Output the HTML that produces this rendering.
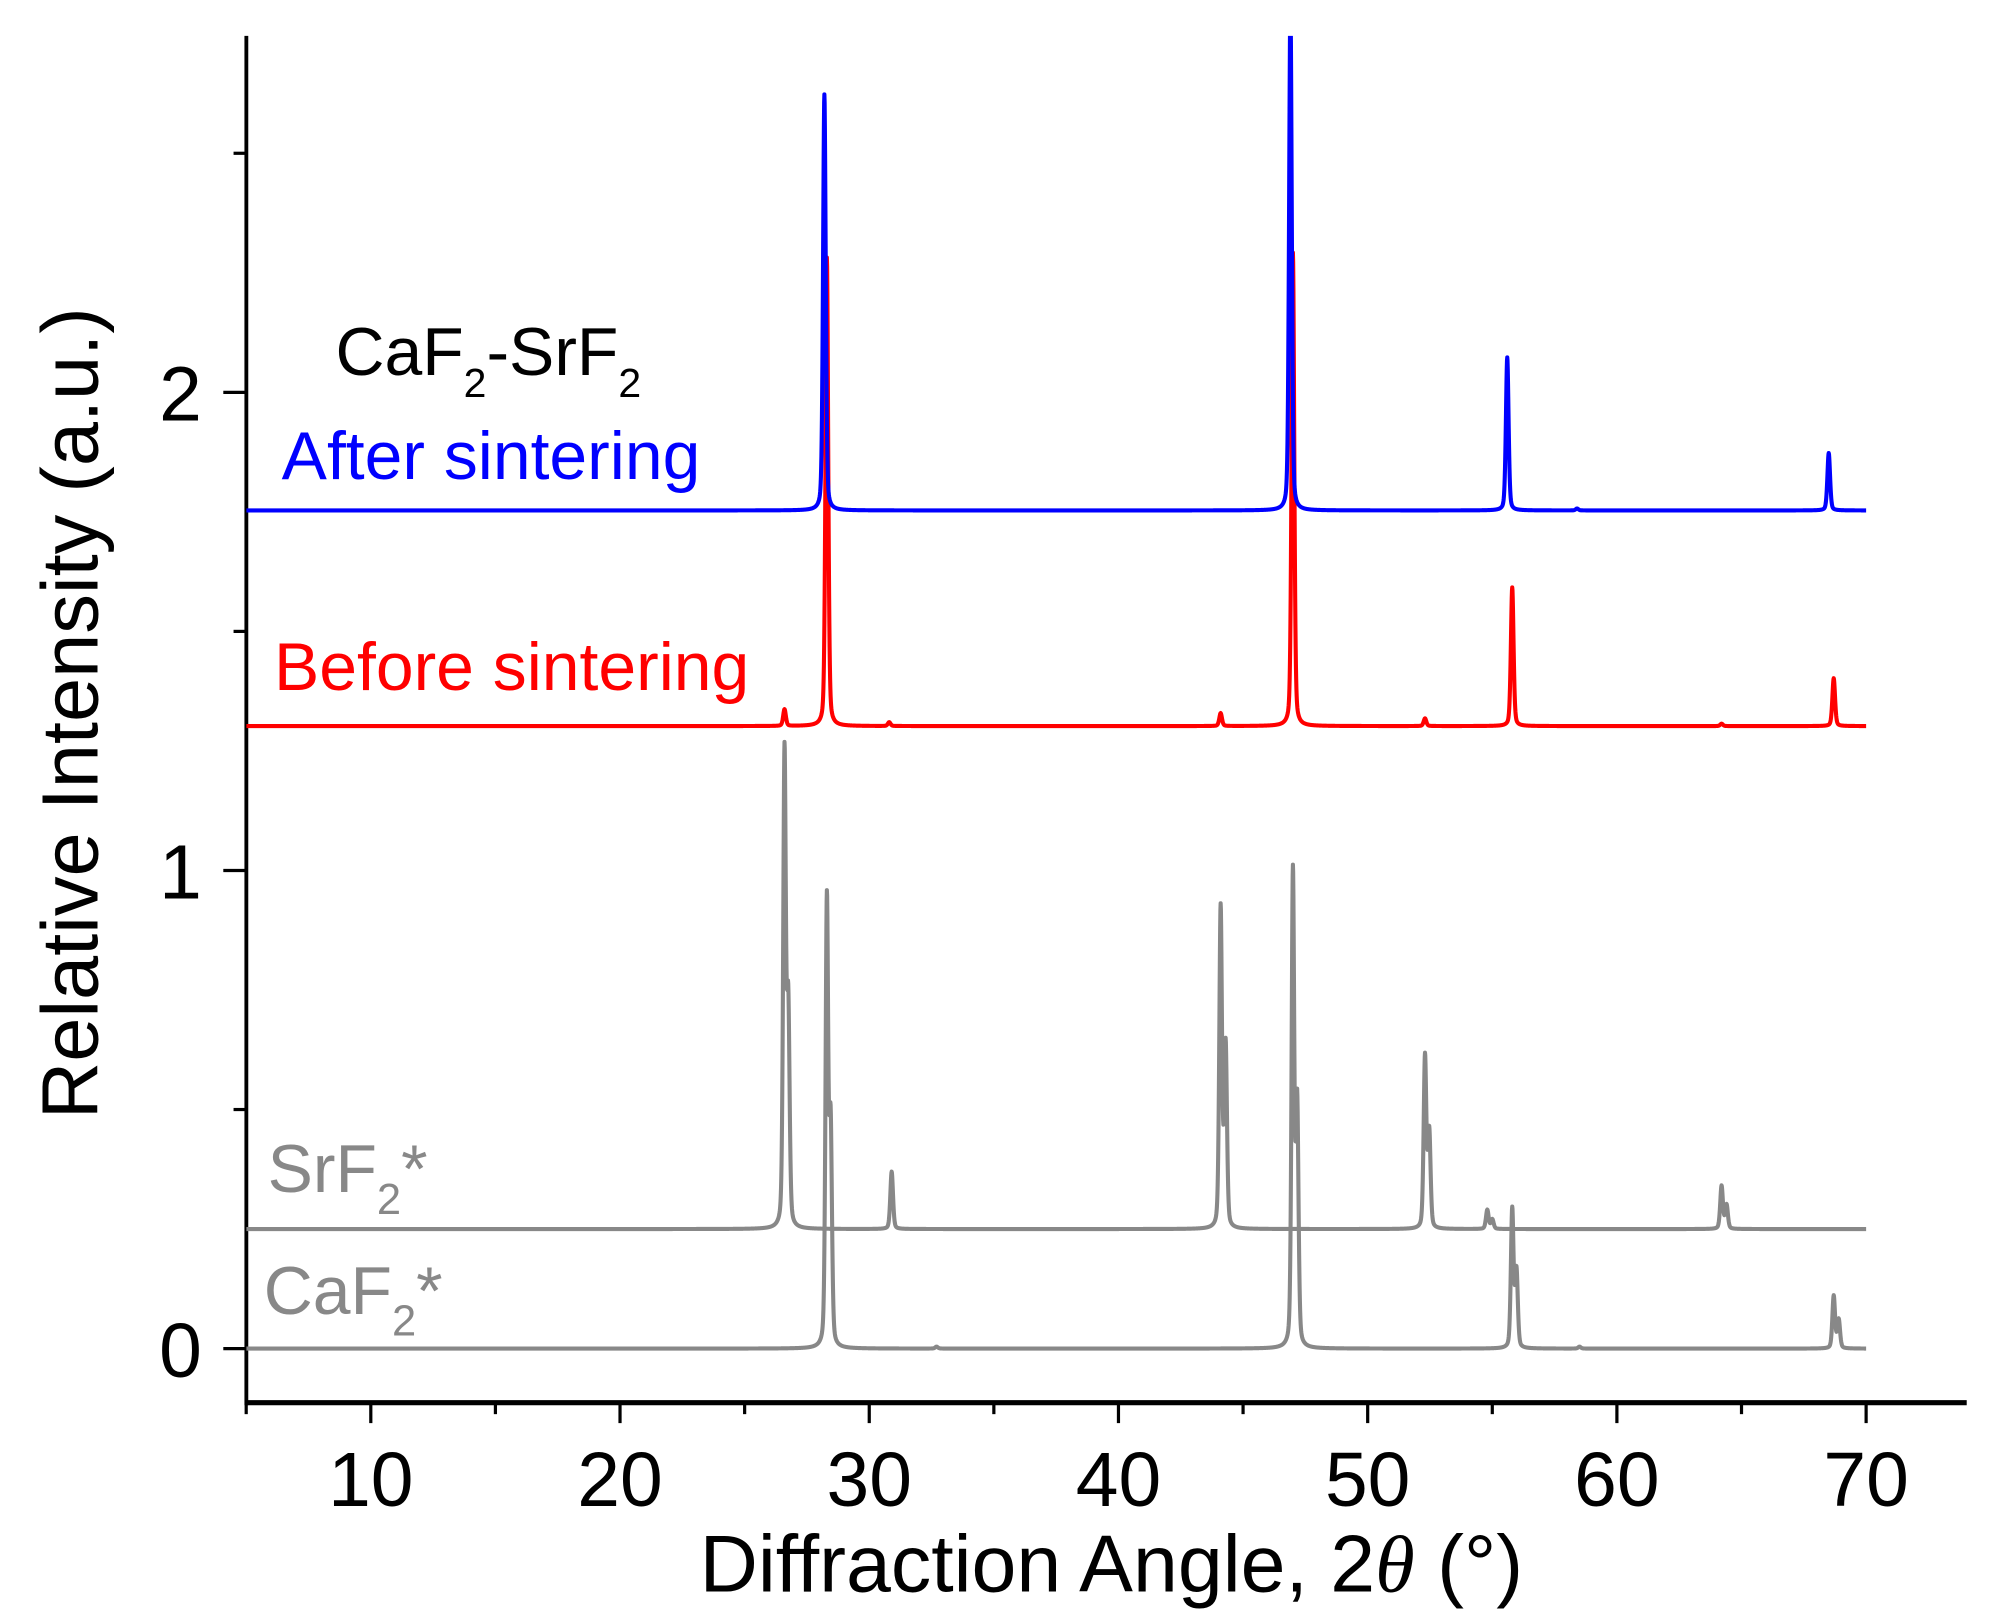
<!DOCTYPE html>
<html><head><meta charset="utf-8"><style>
html,body{margin:0;padding:0;background:#fff;}
svg{display:block;}
text{font-family:"Liberation Sans",Arial,sans-serif;}
</style></head><body>
<svg id="chart" width="2000" height="1623" viewBox="0 0 1562 1267.5" preserveAspectRatio="none" xmlns="http://www.w3.org/2000/svg">
<g id="axes"></g>
<g id="series"></g>
<g id="labels">
<text x="262" y="293" font-size="53" fill="#000">CaF<tspan font-size="32" dy="17">2</tspan><tspan dy="-17">-SrF</tspan><tspan font-size="32" dy="17">2</tspan></text>
<text x="220" y="374" font-size="53" fill="#0000ff">After sintering</text>
<text x="214" y="539" font-size="53" fill="#ff0000">Before sintering</text>
<text x="209" y="931" font-size="53" fill="#888">SrF<tspan font-size="34" dy="17">2</tspan><tspan dy="-17">*</tspan></text>
<text x="206" y="1026" font-size="53" fill="#888">CaF<tspan font-size="34" dy="17">2</tspan><tspan dy="-17">*</tspan></text>
<text x="868" y="1243" font-size="63" text-anchor="middle">Diffraction Angle, 2<tspan font-family="Liberation Serif" font-style="italic">θ</tspan> (°)</text>
<text transform="translate(76,557) rotate(-90)" font-size="62" text-anchor="middle">Relative Intensity (a.u.)</text>
</g>
</svg>
<script>
const xTicks = [10,20,30,40,50,60,70];
const xMinorTicks = [5,15,25,35,45,55,65];
const yTicks = [0,1,2];
const yMinorTicks = [0.5,1.5,2.5];
const seriesNames = ["caf2-reference","srf2-reference","before-sintering","after-sintering"];
const seriesColors = ["#888888","#888888","#ff0000","#0000ff"];
const baselines = [0, 0.25, 1.302, 1.753];
const caf2Pos = [28.3,28.45,32.7,47.0,47.17,55.8,55.97,58.5,68.7,68.9];
const caf2Hgt = [0.93,0.45,0.004,0.99,0.5,0.29,0.16,0.004,0.11,0.06];
const srf2Pos = [26.6,26.75,30.9,44.1,44.3,52.3,52.47,54.8,55.0,64.2,64.4];
const srf2Hgt = [0.99,0.45,0.12,0.67,0.38,0.36,0.2,0.04,0.02,0.09,0.05];
const beforePos = [26.6,28.3,30.8,44.1,47.0,52.3,55.8,64.2,68.7];
const beforeHgt = [0.035,0.98,0.008,0.027,0.99,0.016,0.29,0.005,0.10];
const afterPos = [28.2,46.9,55.6,58.4,68.5];
const afterHgt = [0.87,1.06,0.32,0.004,0.12];
const seriesPos = [caf2Pos,srf2Pos,beforePos,afterPos];
const seriesHgt = [caf2Hgt,srf2Hgt,beforeHgt,afterHgt];

const NS="http://www.w3.org/2000/svg";
const X0=192.4,X1=1536,YTOP=28,YBOT=1095.4;
function xs(v){return 289.6+(v-10)*19.464;}
function ys(v){return 1053.2-v*373.4;}
function mk(tag,attrs,parent){const e=document.createElementNS(NS,tag);for(const k in attrs)e.setAttribute(k,attrs[k]);parent.appendChild(e);return e;}
const axes=document.getElementById('axes');
let e=mk('line',{x1:X0,y1:YTOP,x2:X0,y2:YBOT+2,stroke:'#000','stroke-width':3},axes);


e=mk('line',{x1:X0-1,y1:YBOT,x2:X1,y2:YBOT,stroke:'#000','stroke-width':4},axes);


xTicks.forEach(t=>{
  const l=mk('line',{x1:xs(t),y1:YBOT,x2:xs(t),y2:YBOT+16,stroke:'#000','stroke-width':2.5},axes);
  
  
  const tx=mk('text',{x:xs(t),y:1176,'font-size':60,'text-anchor':'middle'},axes);tx.textContent=t;
  
  
});
xMinorTicks.forEach(t=>{
  const l=mk('line',{x1:xs(t),y1:YBOT,x2:xs(t),y2:YBOT+9,stroke:'#000','stroke-width':2.5},axes);
  
  
});
yTicks.forEach(t=>{
  const l=mk('line',{x1:X0-18,y1:ys(t),x2:X0,y2:ys(t),stroke:'#000','stroke-width':2.5},axes);
  
  
  const tx=mk('text',{x:141,y:ys(t)+22,'font-size':60,'text-anchor':'middle'},axes);tx.textContent=t;
  
  
});
yMinorTicks.forEach(t=>{
  const l=mk('line',{x1:X0-10,y1:ys(t),x2:X0,y2:ys(t),stroke:'#000','stroke-width':2.5},axes);
  
  
});
const sg=document.getElementById('series');
const cp=mk('clipPath',{id:'plotclip'},sg);
mk('rect',{x:X0,y:YTOP,width:X1-X0,height:YBOT-YTOP},cp);
for(let s=0;s<4;s++){
  const pos=seriesPos[s],h=seriesHgt[s],b=baselines[s];
  let d='';
  for(let i=0;i<=6500;i++){
    const x=5+i*0.01;
    let y=b;
    for(let k=0;k<pos.length;k++){
      const dx=x-pos[k];
      const g=Math.exp(-dx*dx/(2*0.055*0.055));
      const q=dx/0.06;
      y+=h[k]*(0.65*g+0.35/(1+q*q));
    }
    d+=(i?'L':'M')+xs(x).toFixed(2)+' '+ys(y).toFixed(2);
  }
  const p=mk('path',{d:d,fill:'none',stroke:seriesColors[s],'stroke-width':3.2,'stroke-linejoin':'round','clip-path':'url(#plotclip)'},sg);
  
  
}
</script>
</body></html>
